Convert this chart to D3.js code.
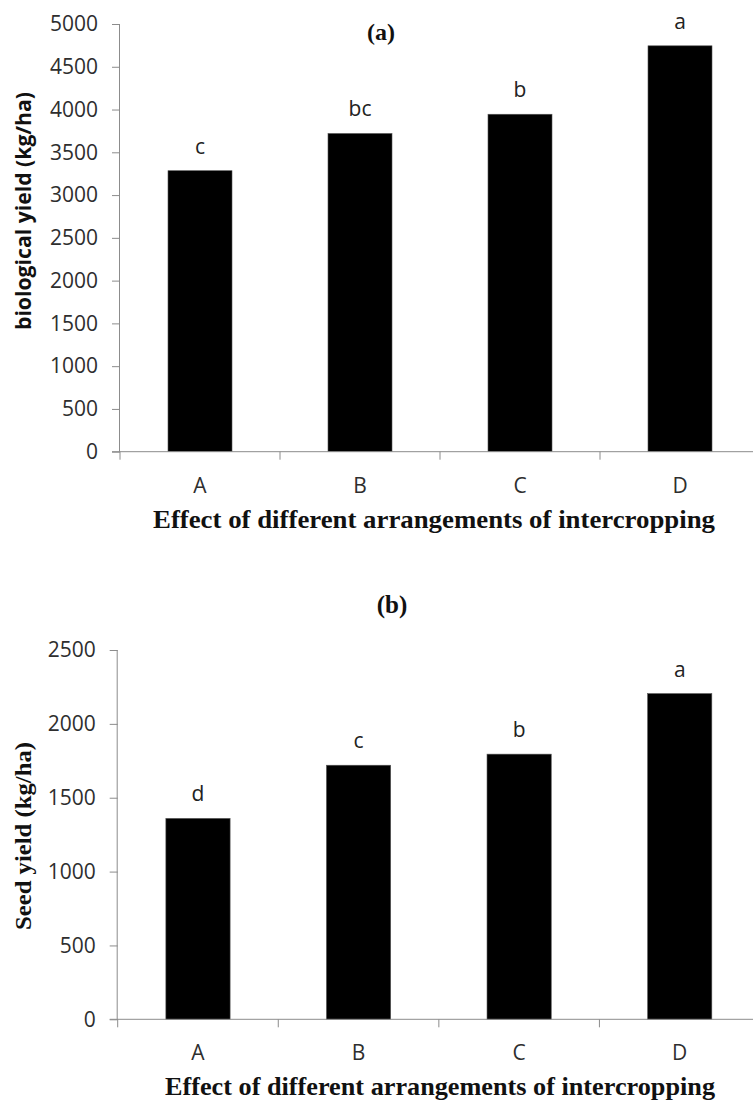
<!DOCTYPE html>
<html>
<head>
<meta charset="utf-8">
<script src="https://cdn.jsdelivr.net/npm/d3@7"></script>
<style>
  html, body { margin: 0; padding: 0; background: #fff; }
  svg { display: block; }
  .tick-label { font-family: 'Open Sans', sans-serif; font-size: 21px; fill: #2e2e2e; }
  .sig-label { font-family: 'Open Sans', sans-serif; font-size: 21px; fill: #222; }
  .serif-bold { font-family: 'Liberation Serif', 'Times New Roman', Times, serif; font-weight: bold; fill: #111; }
</style>
</head>
<body>
<div id="chart"></div>
<script>
const categories = ['A', 'B', 'C', 'D']

const biologicalYield = [3285, 3720, 3945, 4745]
const biologicalLetters = ['c', 'bc', 'b', 'a']
const biologicalTicks = [0, 500, 1000, 1500, 2000, 2500, 3000, 3500, 4000, 4500, 5000]

const seedYield = [1360, 1720, 1795, 2205]
const seedLetters = ['d', 'c', 'b', 'a']
const seedTicks = [0, 500, 1000, 1500, 2000, 2500]

const xTitle = 'Effect of different  arrangements of intercropping'

const width = 753
const height = 1103
const axisColor = '#8c8c8c'
const serif = "'Liberation Serif', 'Times New Roman', Times, serif"

const svg = d3.select('#chart').append('svg')
  .attr('width', width)
  .attr('height', height)

function drawPanel(opts) {
  const { left, right, top, bottom, values, letters, ticks, maxY } = opts
  const g = svg.append('g')

  const x = d3.scaleBand()
    .domain(categories)
    .range([left, right])
    .paddingInner(0.6)
    .paddingOuter(0.3)

  const y = d3.scaleLinear()
    .domain([0, maxY])
    .range([bottom, top])

  // bars
  g.selectAll('rect.bar')
    .data(values)
    .join('rect')
    .attr('class', 'bar')
    .attr('x', (d, i) => x(categories[i]))
    .attr('y', d => y(d))
    .attr('width', x.bandwidth())
    .attr('height', d => y(0) - y(d))
    .attr('fill', '#000')
    .attr('stroke', '#555')
    .attr('stroke-width', 0.6)

  // y axis
  const yAxis = g.append('g')
    .attr('transform', `translate(${left},0)`)
    .call(d3.axisLeft(y).tickValues(ticks).tickSize(8).tickPadding(14).tickFormat(d3.format('d')))
  yAxis.select('.domain').attr('stroke', axisColor).attr('d', `M-0.5,${top}V${bottom}`)
  yAxis.selectAll('.tick line').attr('stroke', axisColor)
  yAxis.selectAll('.tick text').attr('class', 'tick-label').attr('fill', null)

  // x axis with ticks at band boundaries
  const xAxis = g.append('g')
    .attr('transform', `translate(0,${bottom})`)
  xAxis.append('line')
    .attr('x1', left - 8).attr('x2', right)
    .attr('y1', 0).attr('y2', 0)
    .attr('stroke', axisColor)
  const step = x.step()
  const bounds = categories.map(c => x(c) - step * x.paddingOuter())
  xAxis.selectAll('line.xt')
    .data(bounds.concat([right]))
    .join('line')
    .attr('class', 'xt')
    .attr('x1', d => d).attr('x2', d => d)
    .attr('y1', 0).attr('y2', 8)
    .attr('stroke', axisColor)
  xAxis.selectAll('text.cat')
    .data(categories)
    .join('text')
    .attr('class', 'tick-label')
    .attr('x', d => x(d) + x.bandwidth() / 2)
    .attr('y', 41)
    .attr('text-anchor', 'middle')
    .text(d => d)

  // significance letters
  g.selectAll('text.sig')
    .data(values)
    .join('text')
    .attr('class', 'sig-label')
    .attr('x', (d, i) => x(categories[i]) + x.bandwidth() / 2)
    .attr('y', d => y(d) - 17)
    .attr('text-anchor', 'middle')
    .text((d, i) => letters[i])

  // x title
  g.append('text')
    .attr('font-family', serif)
    .attr('font-weight', 'bold')
    .attr('fill', '#111')
    .attr('x', opts.xTitleX)
    .attr('y', bottom + 76)
    .attr('text-anchor', 'middle')
    .attr('font-size', 25)
    .attr('textLength', opts.xTitleLen)
    .attr('lengthAdjust', 'spacingAndGlyphs')
    .text(xTitle)

  return g
}

// panel (a)
drawPanel({
  left: 120, right: 760, top: 24, bottom: 451.7,
  values: biologicalYield, letters: biologicalLetters, ticks: biologicalTicks, maxY: 5000,
  xTitleX: 434, xTitleLen: 562
})

svg.append('text')
  .attr('font-family', serif)
  .attr('font-weight', 'bold')
  .attr('fill', '#111')
  .attr('x', 381)
  .attr('y', 40)
  .attr('text-anchor', 'middle')
  .attr('font-size', 24)
  .text('(a)')

svg.append('text')
  .attr('transform', 'translate(31,211) rotate(-90)')
  .attr('text-anchor', 'middle')
  .attr('font-family', "'Open Sans', sans-serif")
  .attr('font-weight', 'bold')
  .attr('font-size', 22)
  .attr('fill', '#111')
  .attr('textLength', 238)
  .attr('lengthAdjust', 'spacingAndGlyphs')
  .text('biological yield (kg/ha)')

// panel (b)
drawPanel({
  left: 117.7, right: 760, top: 650, bottom: 1019.3,
  values: seedYield, letters: seedLetters, ticks: seedTicks, maxY: 2500,
  xTitleX: 440, xTitleLen: 550
})

svg.append('text')
  .attr('font-family', serif)
  .attr('font-weight', 'bold')
  .attr('fill', '#111')
  .attr('x', 392)
  .attr('y', 613)
  .attr('text-anchor', 'middle')
  .attr('font-size', 25)
  .text('(b)')

svg.append('text')
  .attr('font-family', serif)
  .attr('font-weight', 'bold')
  .attr('fill', '#111')
  .attr('transform', 'translate(31,836) rotate(-90)')
  .attr('text-anchor', 'middle')
  .attr('font-size', 23)
  .attr('textLength', 188)
  .attr('lengthAdjust', 'spacingAndGlyphs')
  .text('Seed yield  (kg/ha)')
</script>
</body>
</html>
